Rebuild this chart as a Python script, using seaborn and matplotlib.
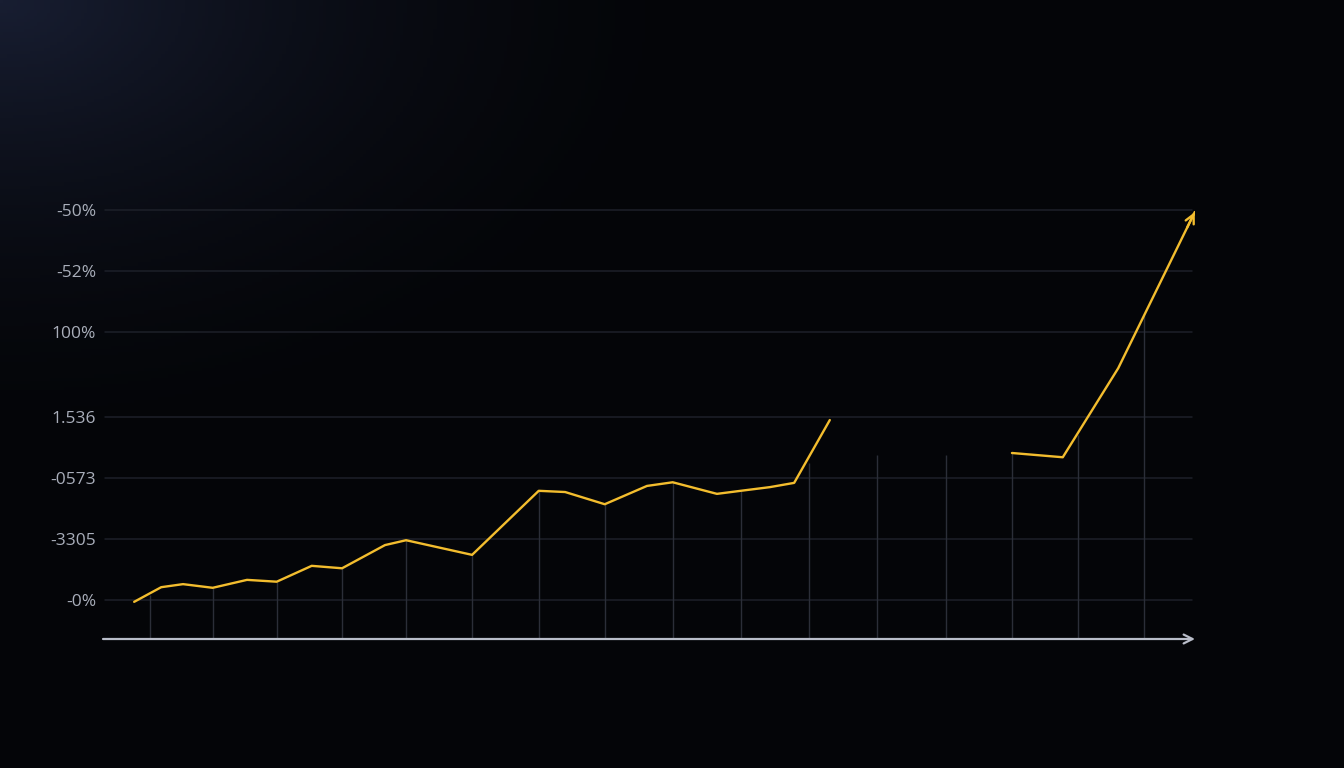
import matplotlib
matplotlib.use("Agg")
import matplotlib.pyplot as plt
import seaborn as sns
import numpy as np
import pandas as pd

# line vertices (x in drop-line units, y in gridline units)
seg1_x = [0.76, 1.17, 1.5, 1.95, 2.47, 2.92, 3.45, 3.91, 4.56, 4.88, 5.88, 6.89, 7.29, 7.89, 8.53, 8.92, 9.59, 9.95, 10.39, 10.76, 11.3]
seg1_y = [-0.03, 0.21, 0.26, 0.20, 0.33, 0.30, 0.56, 0.52, 0.90, 0.98, 0.74, 1.79, 1.77, 1.57, 1.87, 1.93, 1.74, 1.79, 1.85, 1.92, 2.95]
seg2_x = [14.06, 14.83, 15.67, 16.83]
seg2_y = [2.41, 2.34, 3.80, 6.36]

# faint vertical drop lines
drop_x = [1.0, 1.95, 2.92, 3.91, 4.88, 5.88, 6.89, 7.89, 8.92, 9.95, 10.98, 12.02, 13.06, 14.06, 15.06, 16.06]
drop_top = [0.08, 0.20, 0.30, 0.52, 0.98, 0.74, 1.79, 1.57, 1.93, 1.79, 2.25, 2.38, 2.38, 2.41, 2.70, 4.67]

tick_pos = [0, 1, 2, 3, 4.4, 5.4, 6.4]
tick_labels = ["-0%", "-3305", "-0573", "1.536", "100%", "-52%", "-50%"]

df = pd.DataFrame({
    "x": seg1_x + seg2_x,
    "y": seg1_y + seg2_y,
    "seg": ["a"] * len(seg1_x) + ["b"] * len(seg2_x),
})

sns.set_style("dark")
plt.rcParams["font.family"] = ["Open Sans", "DejaVu Sans"]

fig = plt.figure(figsize=(13.44, 7.68), dpi=100)

# background gradient, faint bluish glow at top-left
bg = fig.add_axes([0, 0, 1, 1])
gx, gy = np.meshgrid(np.linspace(0, 1, 400), np.linspace(0, 1, 240))
d = np.sqrt((gx * 1.0) ** 2 + (gy * 0.9) ** 2)
t = np.clip(1 - d / 0.55, 0, 1) ** 1.8
c0 = np.array([4, 5, 8]) / 255
c1 = np.array([24, 30, 50]) / 255
img = c0 + (c1 - c0) * t[..., None]
bg.imshow(img, aspect="auto", extent=[0, 1, 0, 1], origin="upper")
bg.axis("off")

W, H = 1344, 768
left, right, bottom, top = 103, 1195, 639, 195
ax = fig.add_axes([left / W, (H - bottom) / H, (right - left) / W, (bottom - top) / H])
ax.patch.set_alpha(0)

x0 = (left - 84) / 66
x1 = (right - 84) / 66
y0 = (600 - bottom) / 61
y1 = (600 - top) / 61
ax.set_xlim(x0, x1)
ax.set_ylim(y0, y1)

# horizontal gridlines
for p in tick_pos:
    ax.plot([x0 + 0.03, x1 - 0.05], [p, p], color="#1d2029", lw=1.1, zorder=1)

# drop lines
ax.vlines(drop_x, y0, drop_top, color="#2b2e38", lw=1.0, zorder=1)

sns.lineplot(data=df, x="x", y="y", units="seg", estimator=None,
             color="#f3bd2e", lw=1.7, ax=ax, zorder=3, legend=False)
ax.annotate("", xy=(seg2_x[-1], seg2_y[-1]), xytext=(seg2_x[-2] + 0.9 * (seg2_x[-1] - seg2_x[-2]),
            seg2_y[-2] + 0.9 * (seg2_y[-1] - seg2_y[-2])),
            arrowprops=dict(arrowstyle="->", color="#f3bd2e", lw=1.7,
                            mutation_scale=16, shrinkA=0, shrinkB=0), zorder=4)

# x axis with arrow
ax.annotate("", xy=(1.0, 0.0), xytext=(0.0, 0.0), xycoords="axes fraction",
            arrowprops=dict(arrowstyle="->", color="#b9bdc9", lw=1.6,
                            mutation_scale=16, shrinkA=0, shrinkB=0), zorder=4)

ax.set_yticks(tick_pos)
ax.set_yticklabels(tick_labels)
ax.set_xticks([])
ax.tick_params(axis="y", length=0, pad=5, labelsize=12.5, labelcolor="#a9aeba")
ax.set_xlabel("")
ax.set_ylabel("")
ax.grid(False)
for s in ax.spines.values():
    s.set_visible(False)

fig.savefig("out.png", dpi=100)
